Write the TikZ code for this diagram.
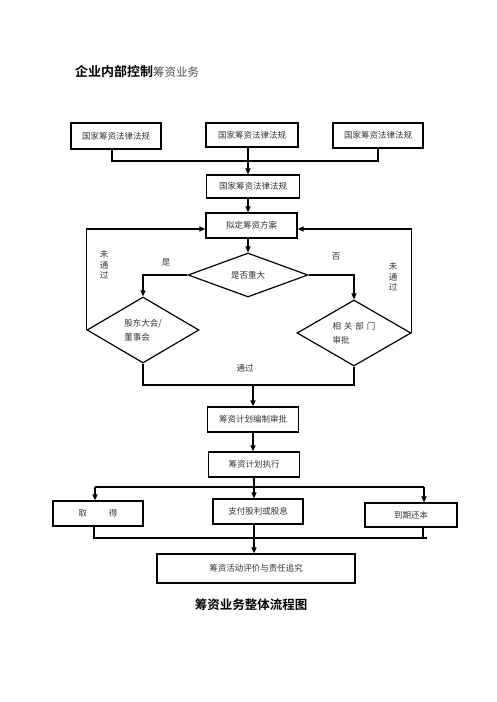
\documentclass[tikz,border=0pt]{standalone}
\usepackage{fontspec}
\newfontfamily\cjk{Noto Sans CJK SC}[BoldFont={Noto Sans CJK SC Bold}]
\usetikzlibrary{shapes.geometric,arrows.meta}
\tikzset{
  box/.style={draw, line width=1.2pt, rectangle, minimum width=91pt, minimum height=25pt, inner sep=0pt, font=\cjk\fontsize{8.5}{10}\selectfont, text=black!80},
  dia/.style={draw, line width=1.2pt, diamond, inner sep=0pt, font=\cjk\fontsize{8.5}{14}\selectfont, text=black!80},
  ln/.style={line width=1.2pt},
  arr/.style={line width=1.2pt, -{Triangle[length=6pt,width=5pt]}},
  lbl/.style={font=\cjk\fontsize{8.5}{10}\selectfont, text=black!80, inner sep=0pt, align=center}
}
\begin{document}
\begin{tikzpicture}[x=1pt,y=-1pt]
\useasboundingbox (0,0) rectangle (496,702);
% title
\node[anchor=west, inner sep=0pt] (title) at (75,72) {\cjk\fontsize{13}{15}\selectfont\bfseries 企业内部控制\mdseries\fontsize{11.5}{15}\selectfont\textcolor{black!70}{筹资业务}};
% top boxes
\node[box, minimum width=90pt, minimum height=26pt] (A) at (116,136) {国家筹资法律法规};
\node[box, minimum width=92pt, minimum height=24pt] (B) at (252,135) {国家筹资法律法规};
\node[box, minimum width=90pt, minimum height=25pt] (C) at (378,135.5) {国家筹资法律法规};
\node[box, minimum width=93pt, minimum height=23pt] (D) at (253,186.5) {国家筹资法律法规};
\node[box] (E) at (251.5,225.5) {拟定筹资方案};
\coordinate (t1) at (112,161);
\coordinate (t3) at (378,161);
\coordinate (cx) at (248,0);
\draw[ln] (t1 |- A.south) -- (t1) -- (t3) -- (C.south);
\draw[arr] (cx |- B.south) -- (cx |- D.north);
\draw[arr] (cx |- D.south) -- (cx |- E.north);
% decision
\node[dia, minimum width=120pt, minimum height=44pt] (Q) at (248,275) {是否重大};
\draw[arr] (cx |- E.south) -- (Q.north);
\node[dia, minimum width=112pt, minimum height=66pt, align=left] (L) at (143,330) {股东大会/\\董事会};
\node[dia, minimum width=114pt, minimum height=66pt, align=left] (R) at (354,333) {相\hspace{3pt}关\hspace{3pt}部\hspace{3pt}门\\审批};
\draw[arr] (Q.west) -| (L.north);
\draw[arr] (Q.east) -| (R.north);
\draw[arr] (L.west) |- ([yshift=-3.5pt]E.west);
\draw[arr] (R.east) |- ([yshift=-3.5pt]E.east);
\node[lbl, font=\cjk\fontsize{8.5}{10.5}\selectfont] (n1) at (104,265) {未\\通\\过};
\node[lbl, font=\cjk\fontsize{8.5}{10.5}\selectfont] (n2) at (393,277) {未\\通\\过};
\node[lbl] (yes) at (166,262) {是};
\node[lbl] (no) at (336,257) {否};
\node[lbl] (pass) at (245,368) {通过};
% merge
\node[box] (F) at (253,419.5) {筹资计划编制审批};
\coordinate (m) at (253,385);
\draw[ln] (L.south) |- (R.south |- m) -- (R.south);
\draw[arr] (m) -- (F.north);
\node[box] (G) at (254,464.5) {筹资计划执行};
\coordinate (s) at (254,487);
\draw[arr] (m |- F.south) -- (m |- G.north);
% branch
\node[box, minimum width=90pt] (H1) at (98,513.5) {取\hspace{22pt}得};
\node[box, minimum width=90pt] (H2) at (258,511.5) {支付股利或股息};
\node[box, minimum width=92pt, minimum height=24pt] (H3) at (411,515) {到期还本};
\coordinate (s1) at (95,487);
\coordinate (s3) at (424,487);
\draw[ln] (G.south) -- (s);
\draw[ln] (s1) -- (s3);
\draw[arr] (s1) -- (s1 |- H1.north);
\draw[arr] (s) -- (s |- H2.north);
\draw[arr] (s3) -- (s3 |- H3.north);
% final
\node[box, minimum width=198pt, minimum height=29pt] (I) at (256,568.5) {筹资活动评价与责任追究};
\coordinate (b1) at (94,538);
\coordinate (b3) at (423,538);
\draw[ln] (b1 |- H1.south) -- (b1) -- ([xshift=4pt]b3);
\draw[ln] (b3 |- H3.south) -- (b3);
\draw[arr] (s |- H2.south) -- (s |- I.north);
% caption
\node[inner sep=0pt] (cap) at (251,605) {\cjk\fontsize{12.5}{14}\selectfont\bfseries 筹资业务整体流程图};
\end{tikzpicture}
\end{document}
